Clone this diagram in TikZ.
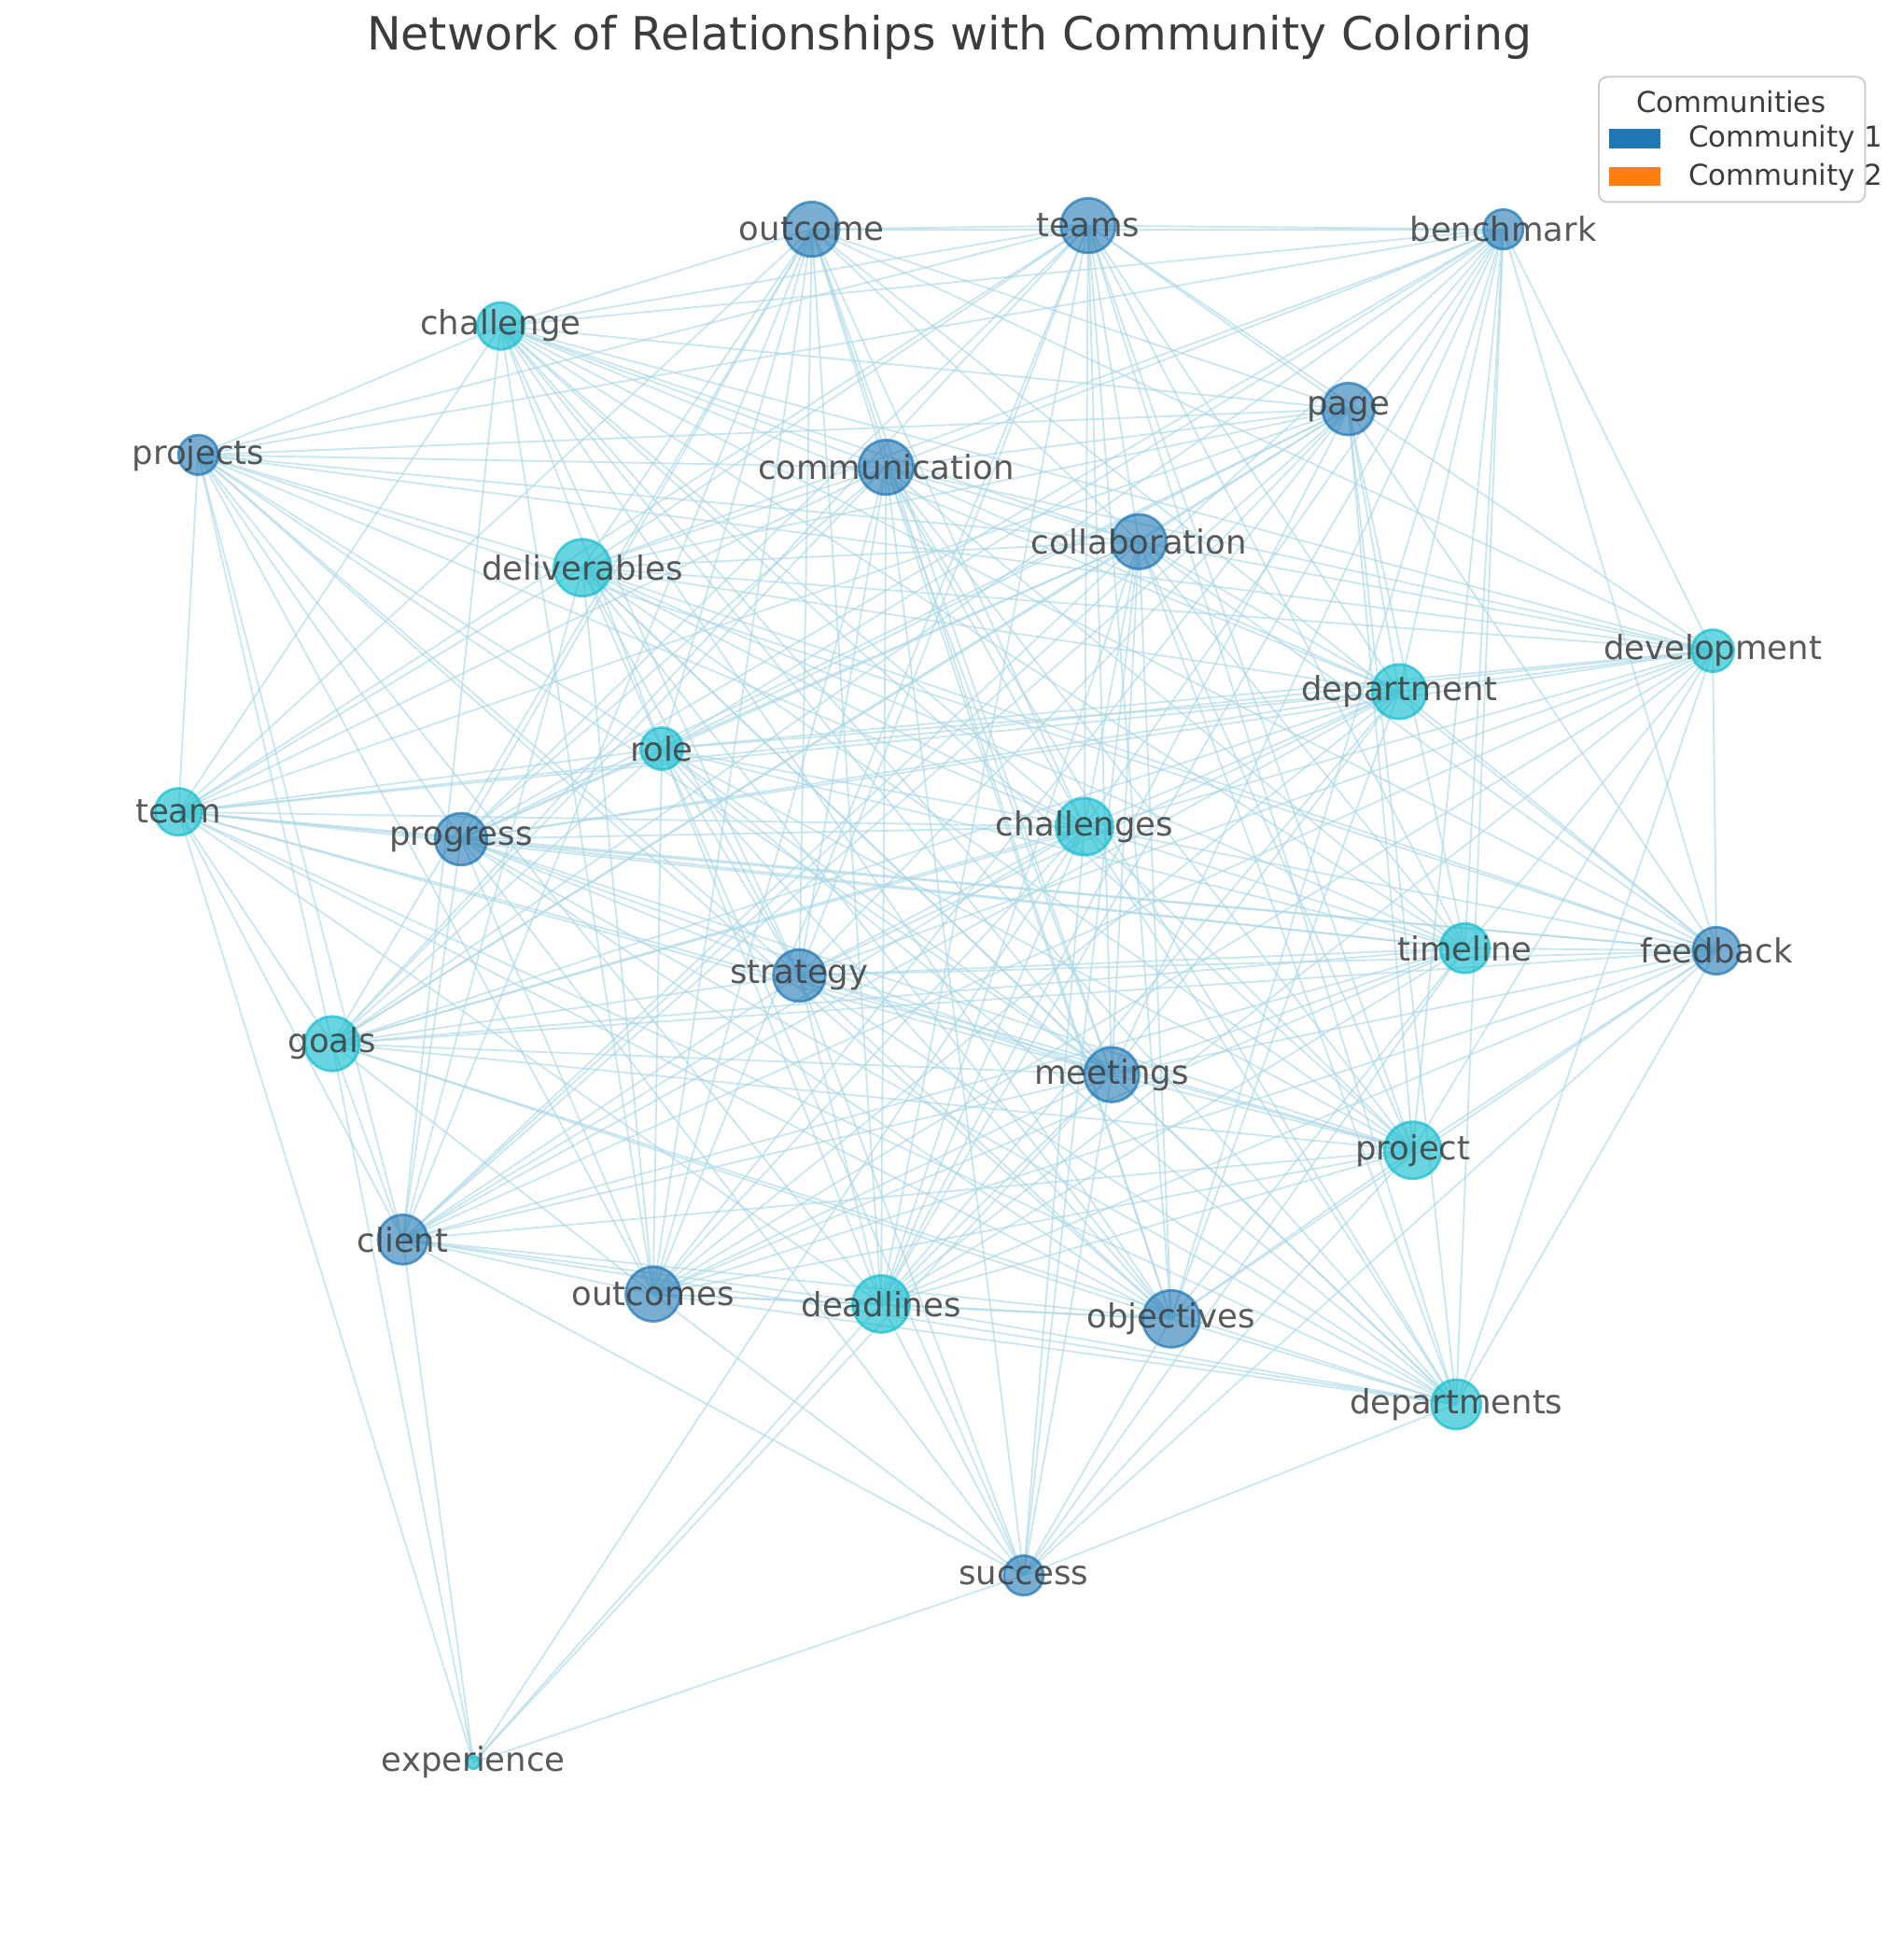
\documentclass[tikz,border=0pt]{standalone}
\usepackage{fontspec}
\setmainfont{DejaVu Sans}
\definecolor{comblue}{RGB}{31,119,180}
\definecolor{comcyan}{RGB}{23,190,207}
\definecolor{comorange}{RGB}{255,127,14}
\definecolor{kante}{RGB}{173,216,230}
\definecolor{schrift}{RGB}{60,60,60}
\tikzset{
  dunkel/.style={circle, fill=comblue, fill opacity=0.6, draw=comblue, draw opacity=0.7, line width=0.6pt},
  hell/.style={circle, fill=comcyan, fill opacity=0.65, draw=comcyan, draw opacity=0.7, line width=0.6pt},
  kantestil/.style={kante, line width=0.4pt, opacity=0.65},
  beschr/.style={text=schrift, text opacity=0.85, font=\fontsize{7.6}{9}\selectfont}
}
\begin{document}
\begin{tikzpicture}[x=0.01cm, y=-0.01cm]
    \useasboundingbox (0,0) rectangle (1536,1574);

    % knoten: name/x/y/stil/radius
    \foreach \n/\px/\py/\s/\r in {outcome/655/185/dunkel/22, teams/878/182/dunkel/22, benchmark/1213/185/dunkel/16,
        challenge/404/263/hell/19, page/1088/330/dunkel/21, projects/160/367/dunkel/16, communication/715/377/dunkel/22,
        collaboration/919/437/dunkel/22, deliverables/470/458/hell/23, development/1382/525/hell/17, department/1129/558/hell/22,
        role/534/604/hell/17, team/144/655/hell/19, progress/372/677/dunkel/21, challenges/875/667/hell/23,
        timeline/1182/765/hell/20, feedback/1385/767/dunkel/19, strategy/645/787/dunkel/21, goals/268/842/hell/22,
        meetings/897/867/dunkel/22, project/1140/928/hell/23, client/325/1000/dunkel/20, outcomes/527/1044/dunkel/22,
        deadlines/711/1052/hell/23, objectives/945/1064/dunkel/23, departments/1175/1133/hell/20, success/826/1271/dunkel/16,
        experience/382/1422/hell/5}
        \coordinate (\n) at (\px,\py);

    % kanten
    \begin{scope}[kantestil]
    \foreach \a [count=\i] in {outcome, teams, benchmark, challenge, page, projects, communication, collaboration, deliverables,
        development, department, role, team, progress, challenges, timeline, feedback, strategy, goals, meetings, project,
        client, outcomes, deadlines, objectives, departments}
      \foreach \b [count=\j] in {outcome, teams, benchmark, challenge, page, projects, communication, collaboration, deliverables,
        development, department, role, team, progress, challenges, timeline, feedback, strategy, goals, meetings, project,
        client, outcomes, deadlines, objectives, departments}{
        \pgfmathtruncatemacro\k{mod(\i*7+\j*3,5)}
        \ifnum\j>\i \ifnum\k>0 \draw (\a) -- (\b); \fi\fi
      }
    \foreach \b in {meetings, objectives, outcomes, deadlines, client, departments, project, challenges,
        collaboration, strategy, role, progress, feedback, communication, timeline}
        \draw (success) -- (\b);
    \foreach \b in {team, goals, client, deadlines, challenges, meetings, success}
        \draw (experience) -- (\b);
    \end{scope}

    \foreach \n/\s/\r in {outcome/dunkel/22, teams/dunkel/22, benchmark/dunkel/16, challenge/hell/19, page/dunkel/21,
        projects/dunkel/16, communication/dunkel/22, collaboration/dunkel/22, deliverables/hell/23, development/hell/17,
        department/hell/22, role/hell/17, team/hell/19, progress/dunkel/21, challenges/hell/23, timeline/hell/20,
        feedback/dunkel/19, strategy/dunkel/21, goals/hell/22, meetings/dunkel/22, project/hell/23, client/dunkel/20,
        outcomes/dunkel/22, deadlines/hell/23, objectives/dunkel/23, departments/hell/20, success/dunkel/16, experience/hell/5}{
        \node[\s, minimum size=2*\r*0.01cm, inner sep=0pt] (k-\n) at (\n) {};
        \node[beschr] (t-\n) at (\n) {\n};
    }

    \node[text=schrift, font=\fontsize{10.5}{12}\selectfont] (titel) at (766,30) {Network of Relationships with Community Coloring};

    % legende
    \draw[rounded corners=2pt, draw=black!20, fill=white, fill opacity=0.8] (1290,62) rectangle (1505,163);
    \node[text=schrift, font=\fontsize{6.6}{8}\selectfont] (legtitel) at (1397,82) {Communities};
    \fill[comblue] (1298,104) rectangle (1340,120);
    \node[text=schrift, font=\fontsize{6.6}{8}\selectfont, anchor=west] (leg1) at (1350,112) {Community 1};
    \fill[comorange] (1298,135) rectangle (1340,150);
    \node[text=schrift, font=\fontsize{6.6}{8}\selectfont, anchor=west] (leg2) at (1350,143) {Community 2};
\end{tikzpicture}
\end{document}
